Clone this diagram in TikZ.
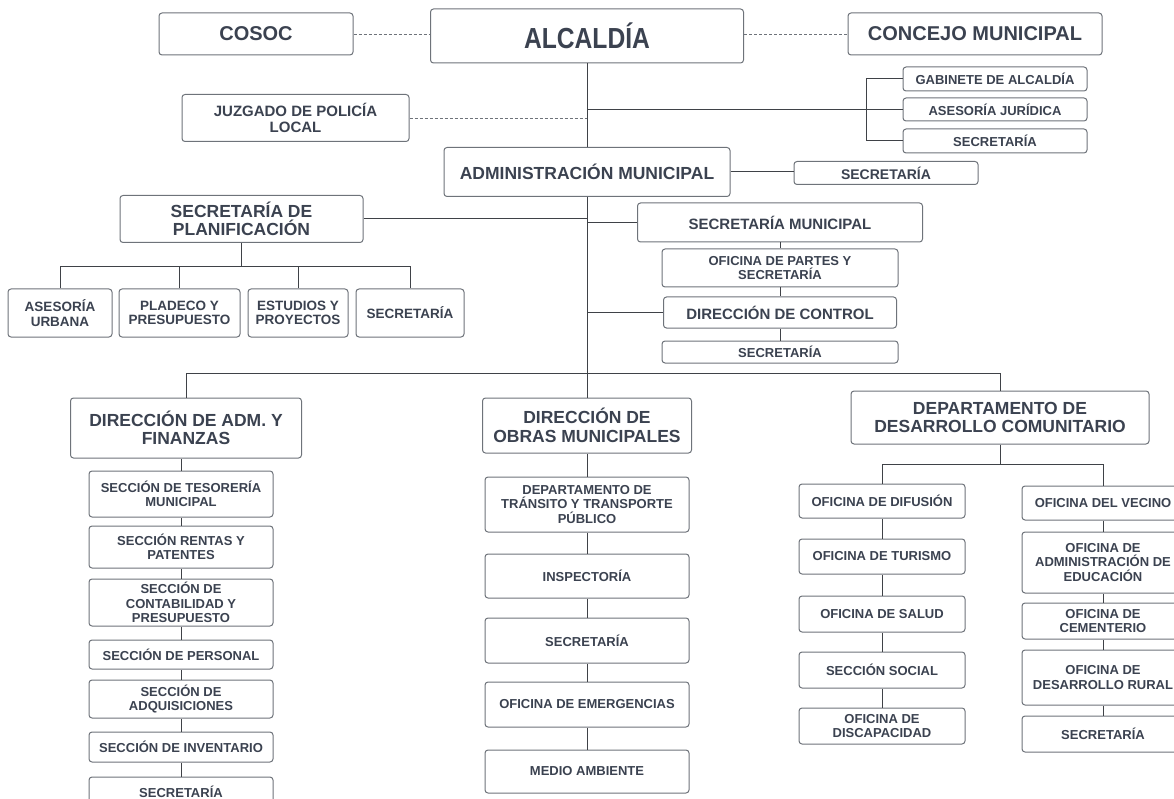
\documentclass[tikz,border=0pt]{standalone}
\usepackage{fontspec}
\setmainfont{Liberation Sans}
\newfontfamily\condfont[FakeStretch=0.85]{Liberation Sans}
\usepackage{tikz}
\usetikzlibrary{calc}
\definecolor{boxgray}{HTML}{6E737A}
\definecolor{txtgray}{HTML}{3B4250}
\definecolor{lnkgray}{HTML}{3F4247}

\begin{document}
\begin{tikzpicture}[x=1pt,y=-1pt,
    box/.style={draw=boxgray, line width=1pt, rounded corners=3pt, fill=white, text=txtgray,
        align=center, inner sep=1pt, font=\bfseries\fontsize{13}{14.3}\selectfont},
    wh/.style 2 args={minimum width=#1, minimum height=#2},
    ftop/.style={font=\condfont\bfseries\fontsize{29}{31}\selectfont},
    fbig/.style={font=\bfseries\fontsize{20}{22}\selectfont},
    fhead/.style={font=\bfseries\fontsize{17.5}{18.6}\selectfont},
    fmid/.style={font=\bfseries\fontsize{15}{16.5}\selectfont},
    fsec/.style={font=\bfseries\fontsize{14}{15.4}\selectfont},
    fsub/.style={font=\bfseries\fontsize{13.5}{14.6}\selectfont},
    link/.style={draw=lnkgray, line width=1pt},
    dashlink/.style={draw=boxgray, line width=0.9pt, dash pattern=on 3pt off 2pt}]

    \useasboundingbox (0,0) rectangle (1174,799);

    % alcaldia y apoyo
    \node[box, ftop, wh={313}{54}] (alc) at (587,36) {ALCALDÍA};
    \node[box, fbig, wh={194}{42}] (cosoc) at (256,34) {COSOC};
    \node[box, fbig, wh={254}{42}] (concejo) at (975,34) {CONCEJO MUNICIPAL};
    \node[box, fmid, wh={227}{47}] (juz) at (295.5,118) {JUZGADO DE POLICÍA\\LOCAL};
    \node[box, wh={184}{24}] (gab) at (995,79) {GABINETE DE ALCALDÍA};
    \node[box, wh={184}{23}] (ases) at (995,109.5) {ASESORÍA JURÍDICA};
    \node[box, wh={184}{24}] (sec1) at (995,141) {SECRETARÍA};

    % administracion municipal
    \node[box, fhead, wh={286}{49}] (adm) at (587,172) {ADMINISTRACIÓN MUNICIPAL};
    \node[box, fsec, wh={184}{23}] (seca) at (886,173) {SECRETARÍA};
    \node[box, fhead, wh={243}{47}] (planif) at (241.5,219) {SECRETARÍA DE\\PLANIFICACIÓN};
    \node[box, fmid, wh={285}{39}] (secmun) at (780,222.5) {SECRETARÍA MUNICIPAL};
    \node[box, wh={236}{38}] (partes) at (780,268) {OFICINA DE PARTES Y\\SECRETARÍA};
    \node[box, fmid, wh={233}{31}] (control) at (780,312.5) {DIRECCIÓN DE CONTROL};
    \node[box, wh={236}{22}] (secm) at (780,352) {SECRETARÍA};

    \node[box, fsub, wh={104}{48}] (aurb) at (60,313) {ASESORÍA\\URBANA};
    \node[box, fsub, wh={121}{48}] (pladeco) at (179.5,313) {PLADECO Y\\PRESUPUESTO};
    \node[box, fsub, wh={100}{48}] (estud) at (298,313) {ESTUDIOS Y\\PROYECTOS};
    \node[box, fsub, wh={108}{48}] (secp) at (410,313) {SECRETARÍA};

    % direcciones
    \node[box, fhead, wh={231}{60}] (diradm) at (186,428) {DIRECCIÓN DE ADM. Y\\FINANZAS};
    \node[box, fhead, wh={209}{55}] (obras) at (587,425.5) {DIRECCIÓN DE\\OBRAS MUNICIPALES};
    \node[box, fhead, wh={298}{53}] (depto) at (1000,417.5) {DEPARTAMENTO DE\\DESARROLLO COMUNITARIO};

    \node[box, wh={184}{46}] (s1) at (181,494) {SECCIÓN DE TESORERÍA\\MUNICIPAL};
    \node[box, wh={184}{42}] (s2) at (181,547) {SECCIÓN RENTAS Y\\PATENTES};
    \node[box, wh={184}{47}] (s3) at (181,602.5) {SECCIÓN DE\\CONTABILIDAD Y\\PRESUPUESTO};
    \node[box, wh={184}{29}] (s4) at (181,654.5) {SECCIÓN DE PERSONAL};
    \node[box, wh={184}{38}] (s5) at (181,699) {SECCIÓN DE\\ADQUISICIONES};
    \node[box, wh={184}{30}] (s6) at (181,747) {SECCIÓN DE INVENTARIO};
    \node[box, wh={184}{30}] (s7) at (181,792) {SECRETARÍA};

    \node[box, wh={204}{55}] (o1) at (587,504.5) {DEPARTAMENTO DE\\TRÁNSITO Y TRANSPORTE\\PÚBLICO};
    \node[box, wh={204}{44}] (o2) at (587,576) {INSPECTORÍA};
    \node[box, wh={204}{45}] (o3) at (587,640.5) {SECRETARÍA};
    \node[box, wh={204}{45}] (o4) at (587,704.5) {OFICINA DE EMERGENCIAS};
    \node[box, wh={204}{43}] (o5) at (587,771.5) {MEDIO AMBIENTE};

    \node[box, wh={166}{34}] (d1) at (882,501) {OFICINA DE DIFUSIÓN};
    \node[box, wh={166}{35}] (d2) at (882,556.5) {OFICINA DE TURISMO};
    \node[box, wh={166}{36}] (d3) at (882,614) {OFICINA DE SALUD};
    \node[box, wh={166}{36}] (d4) at (882,670) {SECCIÓN SOCIAL};
    \node[box, wh={166}{36}] (d5) at (882,726) {OFICINA DE\\DISCAPACIDAD};

    \node[box, wh={162}{34}] (r1) at (1103,503) {OFICINA DEL VECINO};
    \node[box, wh={162}{61}] (r2) at (1103,562.5) {OFICINA DE\\ADMINISTRACIÓN DE\\EDUCACIÓN};
    \node[box, wh={162}{36}] (r3) at (1103,621) {OFICINA DE\\CEMENTERIO};
    \node[box, wh={162}{55}] (r4) at (1103,677.5) {OFICINA DE\\DESARROLLO RURAL};
    \node[box, wh={162}{36}] (r5) at (1103,734) {SECRETARÍA};

    % lineas
    \coordinate (bus) at (0,373);
    \coordinate (pbus) at (0,267);
    \coordinate (dbus) at (0,464);

    \draw[dashlink] (cosoc.east) -- (cosoc.east -| alc.west);
    \draw[dashlink] (alc.east |- concejo.west) -- (concejo.west);
    \draw[dashlink] (juz.east) -- (juz.east -| alc.south);

    \draw[link] (alc.south) -- (adm.north);
    \draw[link] (adm.south) -- (adm.south |- bus);
    \draw[link] (alc.south |- ases.west) -- (ases.west);
    \draw[link] (gab.west) -- ++(-36,0) |- (sec1.west);
    \draw[link] (adm.east) -- (adm.east -| seca.west);

    \draw[link] (planif.east) -- (planif.east -| alc.south);
    \draw[link] (alc.south |- secmun.west) -- (secmun.west);
    \draw[link] (alc.south |- control.west) -- (control.west);
    \draw[link] (secmun.south) -- (partes.north);
    \draw[link] (partes.south) -- (control.north);
    \draw[link] (control.south) -- (secm.north);

    \draw[link] (planif.south) -- (planif.south |- pbus);
    \draw[link] (aurb.north) |- (secp.north |- pbus) -- (secp.north);
    \foreach \n in {pladeco,estud}
        \draw[link] (\n.north) -- (\n.north |- pbus);

    \draw[link] (diradm.north) -- (diradm.north |- bus) -| (depto.north);
    \draw[link] (obras.north) -- (obras.north |- bus);

    \foreach \a/\b in {diradm/s1,s1/s2,s2/s3,s3/s4,s4/s5,s5/s6,s6/s7,
                       obras/o1,o1/o2,o2/o3,o3/o4,o4/o5,
                       d1/d2,d2/d3,d3/d4,d4/d5,r1/r2,r2/r3,r3/r4,r4/r5}
        \draw[link] (\b.north) -- (\b.north |- \a.south);

    \draw[link] (depto.south) -- (depto.south |- dbus);
    \draw[link] (d1.north) |- (r1.north |- dbus) -- (r1.north);

\end{tikzpicture}
\end{document}
